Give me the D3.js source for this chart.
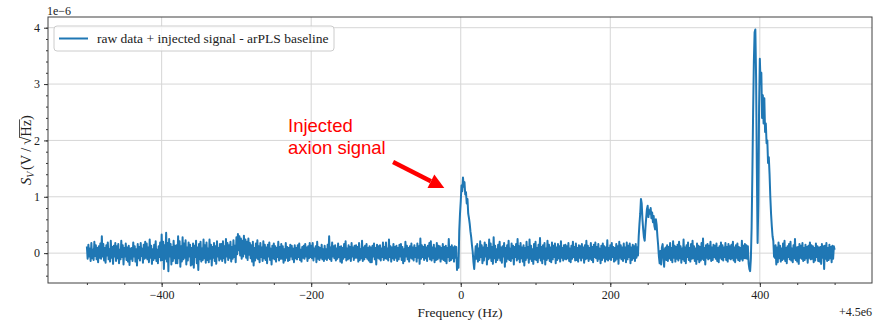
<!DOCTYPE html>
<html>
<head>
<meta charset="utf-8">
<script src="https://cdn.jsdelivr.net/npm/d3@7"></script>
<style>
  body { margin: 0; background: #fff; }
  svg { display: block; }
  text { font-family: "Liberation Serif", "Times New Roman", serif; }
</style>
</head>
<body>
<svg id="chart" width="881" height="323"></svg>
<script>
// frequency grid (offset from 4.5e6 Hz)
const freqStartHz = -500;
const freqStepHz = 1;

// S_V, in units of 1e-8 V/sqrt(Hz), one row = 20 Hz
const svValues = [
  12,-10,15,-6,8,-14,18,-9,6,-12,20,-5,14,-11,9,-16,12,-8,17,-10,
  30,-6,16,-13,9,-17,14,-4,19,-11,7,-15,22,-8,11,-19,13,-6,18,-14,
  12,-9,16,-18,6,-11,22,-7,14,-20,9,-6,17,-12,10,-15,13,-21,8,-10,
  9,-14,19,-6,12,-15,7,-22,16,-9,11,-13,18,-5,8,-17,15,-10,20,-8,
  17,-11,10,-16,24,-8,13,-19,7,-12,15,-9,21,-14,6,-18,12,-7,19,-13,
  33,-12,20,-28,14,-10,36,-15,18,-32,25,-6,16,-20,11,-14,22,-9,13,-18,
  14,-18,30,-9,21,-24,12,-15,28,-11,17,-8,23,-20,10,-13,19,-6,15,-22,
  9,-20,17,-26,13,-7,22,-18,10,-30,16,-11,20,-15,8,-12,24,-9,14,-17,
  19,-12,8,-16,24,-10,15,-22,11,-8,18,-14,12,-19,21,-6,9,-13,16,-10,
  16,-14,21,-9,12,-17,25,-6,18,-12,14,-8,20,-15,11,-10,23,-7,13,-16,
  28,-2,34,5,30,-4,26,-10,22,-6,31,-1,24,-8,20,-12,26,-3,18,-9,
  14,-15,20,-22,9,-13,17,-8,23,-11,12,-16,18,-7,10,-14,21,-9,15,-12,
  10,-18,15,-6,19,-12,8,-20,13,-9,17,-11,12,-15,9,-7,20,-13,11,-10,
  16,-10,12,-17,7,-13,18,-8,11,-14,9,-12,15,-6,13,-11,8,-16,14,-9,
  9,-11,14,-7,17,-12,6,-15,11,-8,13,-10,16,-6,10,-14,12,-9,18,-7,
  13,-9,18,-13,8,-6,12,-16,20,-10,11,-12,9,-8,15,-11,7,-14,13,-10,
  7,-12,15,-8,30,-11,10,-14,19,-6,12,-9,14,-13,8,-10,17,-7,11,-15,
  12,-17,9,-10,16,-7,21,-13,8,-11,14,-9,11,-14,18,-6,10,-12,13,-8,
  14,-8,11,-15,18,-12,7,-9,22,-14,10,-11,13,-7,16,-10,9,-13,12,-16,
  10,-16,13,-6,17,-11,9,-20,15,-8,12,-10,14,-13,8,-7,19,-12,11,-9,
  19,-10,8,-13,24,-7,12,-15,10,-9,16,-12,11,-8,13,-14,9,-11,15,-6,
  16,-12,11,-18,7,-14,20,-6,13,-11,9,-15,12,-8,17,-10,10,-13,14,-7,
  9,-15,17,-8,12,-19,26,-10,14,-7,11,-12,15,-9,10,-14,13,-6,18,-11,
  21,-13,10,-9,15,-16,8,-12,18,-11,13,-8,12,-15,9,-10,16,-12,11,-14,
  13,-18,9,-7,25,-14,11,-12,14,-9,10,-15,12,-8,11,-30,-10,-26,40,70,
  92,120,110,134,118,126,104,108,88,96,70,62,52,38,28,14,2,-16,-28,-8,
  12,-10,16,-15,8,-12,21,-7,14,-18,10,-13,19,-6,15,-20,9,-11,24,-8,
  17,-14,11,-19,28,-9,13,-16,7,-12,15,-8,20,-13,10,-17,12,-6,18,-24,
  9,-15,14,-10,22,-12,8,-14,17,-9,13,-20,11,-7,16,-13,25,-10,12,-16,
  18,-9,10,-15,14,-22,9,-12,20,-8,11,-17,24,-10,13,-14,7,-19,16,-11,
  20,-12,9,-16,15,-8,27,-13,11,-18,14,-10,18,-20,8,-12,22,-9,15,-14,
  10,-16,19,-11,13,-7,17,-18,10,-12,16,-9,12,-15,21,-8,9,-13,14,-10,
  15,-11,12,-9,18,-14,8,-16,13,-10,20,-7,11,-13,17,-12,9,-15,14,-8,
  12,-13,16,-8,10,-17,14,-11,22,-9,13,-14,9,-10,18,-12,11,-16,15,-7,
  19,-9,11,-14,16,-10,8,-18,13,-12,17,-8,12,-15,10,-11,23,-13,9,-10,
  14,-12,18,-7,11,-15,9,-13,16,-10,12,-19,20,-8,14,-11,10,-14,17,-9,
  10,-16,19,-11,13,-7,17,-18,10,-12,15,-9,12,-14,16,-8,10,-4,30,52,
  70,96,88,60,42,28,22,45,62,78,84,64,76,70,80,62,72,55,66,48,
  42,60,50,30,14,-6,-18,4,-20,10,16,-8,-24,7,10,-12,14,-14,11,-9,
  18,-12,9,-16,21,-8,13,-15,11,-10,15,-13,20,-9,12,-17,8,-11,24,-14,
  10,-18,14,-7,19,-12,9,-15,16,-10,22,-9,12,-14,8,-19,17,-11,13,-16,
  11,-13,18,-10,26,-12,9,-20,14,-8,16,-11,13,-9,20,-14,10,-12,15,-7,
  13,-10,17,-14,9,-16,12,-8,19,-11,14,-13,10,-7,18,-12,11,-15,16,-9,
  12,-11,15,-9,20,-13,10,-16,14,-8,17,-12,11,-14,9,-10,22,-13,13,-9,
  16,-9,14,-10,12,-18,-28,-32,-10,45,140,250,340,392,397,310,150,18,90,260,
  345,300,320,240,280,230,275,215,230,195,200,160,170,140,100,70,48,30,22,-6,
  -8,14,-20,10,-16,19,-9,13,-15,8,-12,17,-10,22,-14,9,-18,12,-7,16,
  -11,20,-13,8,-16,14,-9,25,-12,10,-15,11,-19,16,-8,13,-10,18,-14,9,
  -12,15,-9,11,-17,13,-8,19,-11,14,-10,12,-16,9,-13,17,-7,12,-14,10,
  -15,11,-19,16,-8,12,-28,13,-10,18,-14,9,-12,15,-9,11,-16,13,-10,12,
  6
];

const xTicks = [-400, -200, 0, 200, 400];
const yTicks = [0, 1, 2, 3, 4];
const xMinorStep = 50;
const yMinorStep = 0.2;

const legendLabel = "raw data + injected signal - arPLS baseline";
const annotationLines = ["Injected", "axion signal"];

const svg = d3.select("#chart");
svg.append("rect").attr("width", 881).attr("height", 323).attr("fill", "#fff");

const plotLeft = 48, plotRight = 872, plotTop = 17, plotBottom = 283;

const x = d3.scaleLinear().domain([-552, 550]).range([plotLeft, plotRight]);
const y = d3.scaleLinear().domain([-0.53, 4.19]).range([plotBottom, plotTop]);

const data = svValues.map((v, i) => ({ f: freqStartHz + i * freqStepHz, v: v / 100 }));

// grid
const grid = svg.append("g").attr("stroke", "#d6d6d6").attr("stroke-width", 1);
xTicks.forEach(t => grid.append("line")
  .attr("x1", x(t)).attr("x2", x(t)).attr("y1", plotTop).attr("y2", plotBottom));
yTicks.forEach(t => grid.append("line")
  .attr("x1", plotLeft).attr("x2", plotRight).attr("y1", y(t)).attr("y2", y(t)));

// trace
svg.append("clipPath").attr("id", "plotclip")
  .append("rect").attr("x", plotLeft).attr("y", plotTop)
  .attr("width", plotRight - plotLeft).attr("height", plotBottom - plotTop);

const line = d3.line().x(d => x(d.f)).y(d => y(d.v));
svg.append("path")
  .datum(data)
  .attr("clip-path", "url(#plotclip)")
  .attr("d", line)
  .attr("fill", "none")
  .attr("stroke", "#1f77b4")
  .attr("stroke-width", 2)
  .attr("stroke-linejoin", "round");

// axes
const xMinor = d3.range(-500, 501, xMinorStep);
const yMinor = d3.range(-0.4, 4.11, yMinorStep);

const xAxis = d3.axisBottom(x).tickValues(xTicks).tickSize(4).tickPadding(3)
  .tickFormat(d => d < 0 ? "\u2212" + Math.abs(d) : String(d));
const xAxisMinor = d3.axisBottom(x).tickValues(xMinor).tickSize(2).tickFormat("");
const yAxis = d3.axisLeft(y).tickValues(yTicks).tickSize(4).tickPadding(4)
  .tickFormat(d3.format("d"));
const yAxisMinor = d3.axisLeft(y).tickValues(yMinor).tickSize(2).tickFormat("");

function styleAxis(g) {
  g.attr("font-family", null).attr("font-size", null);
  g.select(".domain").remove();
  g.selectAll(".tick line").attr("stroke", "#333");
  g.selectAll(".tick text").attr("fill", "#222")
    .attr("font-family", '"Liberation Serif", serif').attr("font-size", 12);
}

svg.append("g").attr("transform", `translate(0,${plotBottom})`).call(xAxisMinor).call(styleAxis);
svg.append("g").attr("transform", `translate(0,${plotBottom})`).call(xAxis).call(styleAxis);
svg.append("g").attr("transform", `translate(${plotLeft},0)`).call(yAxisMinor).call(styleAxis);
svg.append("g").attr("transform", `translate(${plotLeft},0)`).call(yAxis).call(styleAxis);

// frame
svg.append("rect")
  .attr("x", plotLeft).attr("y", plotTop)
  .attr("width", plotRight - plotLeft).attr("height", plotBottom - plotTop)
  .attr("fill", "none").attr("stroke", "#404040").attr("stroke-width", 1);

// offset texts
svg.append("text").attr("x", 47).attr("y", 14.5)
  .attr("font-size", 12).attr("fill", "#222").text("1e\u22126");
svg.append("text").attr("x", 872).attr("y", 316).attr("text-anchor", "end")
  .attr("font-size", 12).attr("fill", "#222").text("+4.5e6");

// x label
svg.append("text").attr("x", (plotLeft + plotRight) / 2).attr("y", 317)
  .attr("text-anchor", "middle").attr("font-size", 13.5).attr("fill", "#222")
  .text("Frequency (Hz)");

// y label: S_V (V / sqrt(Hz))
const yl = svg.append("g");
let cx = 0;
function piece(str, opts) {
  const t = yl.append("text").attr("x", cx).attr("y", opts.dy || 0)
    .attr("font-size", opts.size || 14.5).attr("fill", "#222")
    .style("font-style", opts.italic ? "italic" : "normal")
    .text(str);
  const w = t.node().getComputedTextLength();
  const start = cx;
  cx += w + (opts.gap || 0);
  return { start, w };
}
piece("S", { italic: true });
piece("V", { italic: true, size: 10, dy: 3, gap: 1.5 });
piece("(V", {});
cx += 3;
piece("/", {});
cx += 3;
const rad = piece("\u221A", { gap: 0 });
const hz = piece("Hz", {});
yl.append("line")
  .attr("x1", rad.start + rad.w - 0.8).attr("x2", hz.start + hz.w + 0.5)
  .attr("y1", -11.5).attr("y2", -11.5)
  .attr("stroke", "#222").attr("stroke-width", 0.8);
piece(")", {});
yl.attr("transform", `translate(31,${150 + cx / 2}) rotate(-90)`);

// legend
const lg = svg.append("g");
lg.append("rect").attr("x", 54).attr("y", 26).attr("width", 280).attr("height", 25)
  .attr("rx", 3).attr("fill", "#fff").attr("fill-opacity", 0.8)
  .attr("stroke", "#cccccc").attr("stroke-width", 1);
lg.append("line").attr("x1", 59).attr("x2", 88).attr("y1", 38.5).attr("y2", 38.5)
  .attr("stroke", "#1f77b4").attr("stroke-width", 2);
lg.append("text").attr("x", 97).attr("y", 43).attr("font-size", 13.5).attr("fill", "#222")
  .text(legendLabel);

// annotation
const ann = svg.append("g");
annotationLines.forEach((s, i) => {
  ann.append("text").attr("x", x(-231)).attr("y", 132 + i * 22)
    .style("font-family", '"Liberation Sans", Arial, sans-serif')
    .attr("font-size", 18.5).attr("fill", "#ff0000").text(s);
});
const tail = [x(-90.5), y(1.616)];
const tip = [x(-22), y(1.155)];
const ang = Math.atan2(tip[1] - tail[1], tip[0] - tail[0]);
const headLen = 15, headHalf = 7.5;
const base = [tip[0] - headLen * Math.cos(ang), tip[1] - headLen * Math.sin(ang)];
ann.append("line")
  .attr("x1", tail[0]).attr("y1", tail[1]).attr("x2", base[0]).attr("y2", base[1])
  .attr("stroke", "#ff0000").attr("stroke-width", 4.5);
ann.append("polygon")
  .attr("points", [
    tip,
    [base[0] - headHalf * Math.sin(ang), base[1] + headHalf * Math.cos(ang)],
    [base[0] + headHalf * Math.sin(ang), base[1] - headHalf * Math.cos(ang)]
  ].map(p => p.join(",")).join(" "))
  .attr("fill", "#ff0000");
</script>
</body>
</html>
